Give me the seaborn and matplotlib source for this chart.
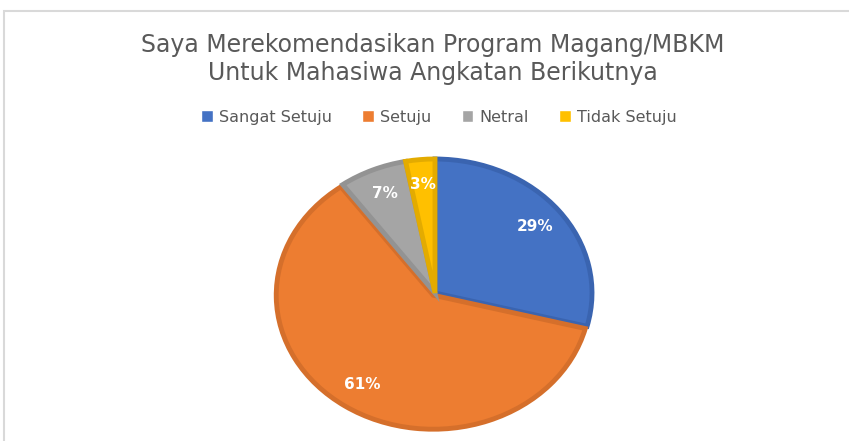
import matplotlib.pyplot as plt
import seaborn as sns
from matplotlib.patches import Patch, Rectangle

# Data
kategori = ["Sangat Setuju", "Setuju", "Netral", "Tidak Setuju"]
persen = [29, 61, 7, 3]
warna = ["#4472C4", "#ED7D31", "#A5A5A5", "#FFC000"]
warna_tepi = ["#3A64B0", "#D56F2B", "#939393", "#E3AB00"]

sns.set_theme(style="white")
plt.rcParams['font.family'] = ['DejaVu Sans']

W, H = 849, 441
fig = plt.figure(figsize=(W / 100, H / 100), dpi=100)

# bingkai area chart
fig.patches.append(Rectangle((4 / W, -0.1), 1.2, (1 - 11 / H) + 0.1, transform=fig.transFigure,
                             fill=False, edgecolor="#D9D9D9", linewidth=1.5))

# pie elips (seperti Excel)
cx, cy, rx, ry = 435, 293, 157, 134
ax = fig.add_axes([(cx - rx) / W, (H - cy - ry) / H, 2 * rx / W, 2 * ry / H])
wedges, texts, autotexts = ax.pie(
    persen, colors=warna, startangle=90, counterclock=False,
    autopct='%d%%', pctdistance=0.81, explode=[0, 0.02, 0, 0],
    wedgeprops=dict(linewidth=3.5),
    textprops=dict(color='white', fontweight='bold', fontsize=11))
for w, e in zip(wedges, warna_tepi):
    w.set_edgecolor(e)
    w.set_clip_on(False)
ax.set_aspect('auto')
ax.set_xlim(-1, 1)
ax.set_ylim(-1, 1)
ax.axis('off')

fig.text(433 / W, 1 - 59 / H, "Saya Merekomendasikan Program Magang/MBKM\nUntuk Mahasiwa Angkatan Berikutnya",
         ha='center', va='center', fontsize=17, color='#595959', linespacing=1.2)

handles = [Patch(facecolor=c) for c in warna]
fig.legend(handles, kategori, loc='center', bbox_to_anchor=(439 / W, 1 - 117 / H), ncol=4,
           frameon=False, fontsize=11.5, handlelength=0.72, handleheight=0.72,
           handletextpad=0.4, columnspacing=1.9, labelcolor='#595959')

fig.savefig("out.png", dpi=100)
